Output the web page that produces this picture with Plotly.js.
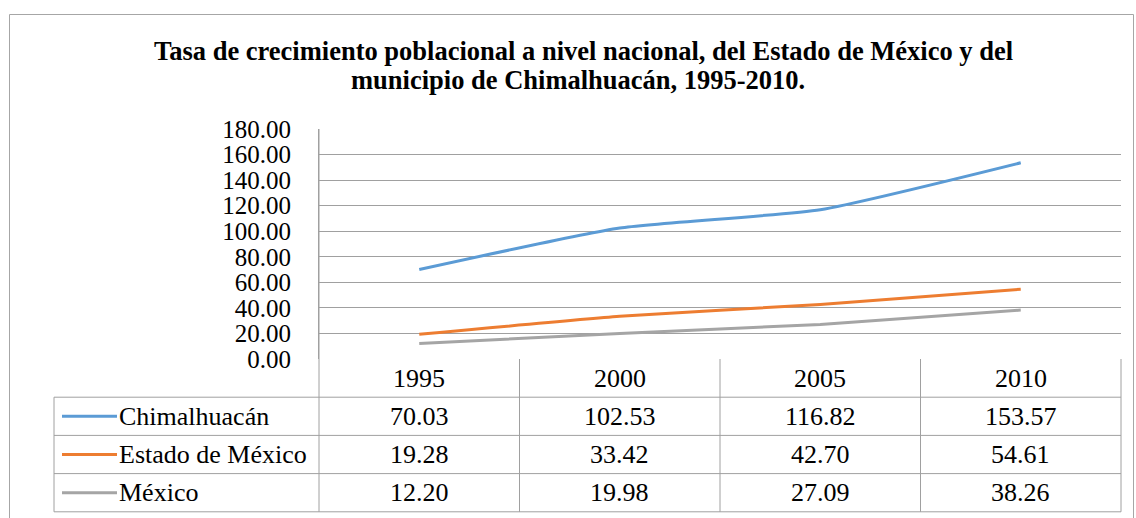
<!DOCTYPE html>
<html>
<head>
<meta charset="utf-8">
<script src="https://cdn.plot.ly/plotly-3.0.1.min.js"></script>
<style>html,body{margin:0;padding:0;background:#fff;}#chart{width:1136px;height:518px;}</style>
</head>
<body>
<div id="chart"></div>
<script>
const years = ['1995', '2000', '2005', '2010'];
const seriesNames = ['Chimalhuacán', 'Estado de México', 'México'];
const chimalhuacan = [70.03, 102.53, 116.82, 153.57];
const estadoMexico = [19.28, 33.42, 42.70, 54.61];
const mexico = [12.20, 19.98, 27.09, 38.26];
const seriesValues = [chimalhuacan, estadoMexico, mexico];
const seriesColors = ['#5B9BD5', '#ED7D31', '#A5A5A5'];
const yTicks = [0, 20, 40, 60, 80, 100, 120, 140, 160, 180];
const titleLines = ['Tasa de crecimiento poblacional a nivel nacional, del Estado de México y del',
                    'municipio de Chimalhuacán, 1995-2010.'];

const W = 1136, H = 518;
const M = {l: 319, r: 15, t: 129, b: 159};
const PW = W - M.l - M.r, PH = H - M.t - M.b;
const px = x => (x - M.l) / PW;
const py = y => (H - M.b - y) / PH;

const FONT = '"Liberation Serif", "Times New Roman", serif';
const gridColor = '#A0A0A0';
const FS = 26;

const traces = seriesNames.map((name, i) => ({
  type: 'scatter', mode: 'lines', name: name,
  x: years, y: seriesValues[i],
  line: {color: seriesColors[i], width: 3, shape: 'spline', smoothing: 0.5},
  hoverinfo: 'x+y+name'
}));

const headerTop = 359, rowH = 38.2;
const tableLeft = 54;
const shapes = [];
const annotations = [];
const ln = (x0, y0, x1, y1, color, w) => shapes.push({type: 'line', xref: 'paper', yref: 'paper',
  x0: px(x0), y0: py(y0), x1: px(x1), y1: py(y1), line: {color: color || gridColor, width: w || 1}});

const nRows = seriesNames.length;
const bottom = headerTop + rowH * (nRows + 1);
for (let r = 1; r <= nRows + 1; r++) ln(tableLeft, headerTop + rowH * r, W - M.r, headerTop + rowH * r);
ln(tableLeft, headerTop + rowH, tableLeft, bottom);
for (let c = 0; c <= years.length; c++) {
  const xx = M.l + PW * c / years.length;
  ln(xx, c === 0 ? M.t : headerTop, xx, bottom);
}
shapes.push({type: 'rect', xref: 'paper', yref: 'paper', x0: px(9.5), x1: px(1133.5), y0: py(14.5), y1: py(540),
  line: {color: '#A6A6A6', width: 1}, fillcolor: 'rgba(0,0,0,0)', layer: 'below'});

const cellFont = {family: FONT, size: FS, color: '#000'};
years.forEach((yr, j) => annotations.push({xref: 'x', yref: 'paper', x: j, y: py(headerTop + rowH / 2),
  text: yr, showarrow: false, xanchor: 'center', yanchor: 'middle', font: cellFont}));
seriesNames.forEach((name, i) => {
  const cy = headerTop + rowH * (i + 1) + rowH / 2;
  ln(62, cy, 117, cy, seriesColors[i], 3);
  annotations.push({xref: 'paper', yref: 'paper', x: px(117), y: py(cy), text: name, showarrow: false,
    xanchor: 'left', yanchor: 'middle', font: cellFont});
  seriesValues[i].forEach((v, j) => annotations.push({xref: 'x', yref: 'paper', x: j, y: py(cy),
    text: v.toFixed(2), showarrow: false, xanchor: 'center', yanchor: 'middle', font: cellFont}));
});
const titlePos = [[583, 51], [578, 80]];
titleLines.forEach((t, k) => annotations.push({xref: 'paper', yref: 'paper', x: px(titlePos[k][0]), y: py(titlePos[k][1]),
  xanchor: 'center', yanchor: 'middle', text: '<b>' + t + '</b>', showarrow: false,
  font: {family: FONT, size: 26.5, color: '#000'}}));

const layout = {
  width: W, height: H,
  margin: M,
  paper_bgcolor: '#fff', plot_bgcolor: '#fff',
  showlegend: false,
  font: {family: FONT, color: '#000'},
  xaxis: {type: 'category', range: [-0.5, years.length - 0.5], showgrid: false, zeroline: false,
    showticklabels: false, ticks: '', showline: false, fixedrange: true},
  yaxis: {range: [0, 180], tickvals: yTicks, tickformat: '.2f', showgrid: true, gridcolor: gridColor, gridwidth: 1,
    zeroline: false, showline: true, linecolor: gridColor, linewidth: 1, ticks: '',
    ticklabelstandoff: 22, tickfont: {family: FONT, size: 25, color: '#000'}, fixedrange: true},
  shapes: shapes,
  annotations: annotations
};

Plotly.newPlot('chart', traces, layout, {displayModeBar: false, staticPlot: true});
</script>
</body>
</html>
